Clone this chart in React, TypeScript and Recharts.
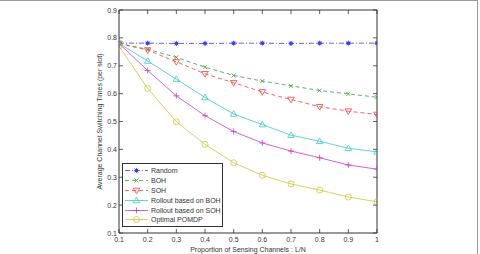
import { Legend, Line, LineChart, XAxis, YAxis } from "recharts";

const proportions = [0.1, 0.2, 0.3, 0.4, 0.5, 0.6, 0.7, 0.8, 0.9, 1.0];
const randomVals = [0.781, 0.781, 0.78, 0.78, 0.781, 0.781, 0.78, 0.781, 0.781, 0.781];
const bohVals = [0.78, 0.759, 0.73, 0.695, 0.665, 0.645, 0.628, 0.611, 0.599, 0.587];
const sohVals = [0.78, 0.756, 0.714, 0.671, 0.639, 0.606, 0.579, 0.553, 0.537, 0.525];
const rolloutBohVals = [0.78, 0.717, 0.652, 0.586, 0.527, 0.489, 0.451, 0.429, 0.404, 0.391];
const rolloutSohVals = [0.78, 0.683, 0.592, 0.521, 0.464, 0.423, 0.394, 0.37, 0.344, 0.329];
const optimalVals = [0.77, 0.619, 0.499, 0.418, 0.352, 0.307, 0.276, 0.254, 0.229, 0.212];

const yTicks = [0.1, 0.2, 0.3, 0.4, 0.5, 0.6, 0.7, 0.8, 0.9];

type Shape = "star" | "x" | "tridown" | "triup" | "plus" | "circle";

type Series = {
  key: string;
  name: string;
  color: string;
  dash?: string;
  shape: Shape;
  values: number[];
};

const series: Series[] = [
  { key: "random", name: "Random", color: "#3a3aff", dash: "5 2 1 2", shape: "star", values: randomVals },
  { key: "boh", name: "BOH", color: "#3a9a3a", dash: "4 3", shape: "x", values: bohVals },
  { key: "soh", name: "SOH", color: "#ff3a3a", dash: "4 3", shape: "tridown", values: sohVals },
  { key: "rboh", name: "Rollout based on BOH", color: "#3ac8c8", shape: "triup", values: rolloutBohVals },
  { key: "rsoh", name: "Rollout based on SOH", color: "#c83ac8", shape: "plus", values: rolloutSohVals },
  { key: "opt", name: "Optimal POMDP", color: "#c8c83a", shape: "circle", values: optimalVals },
];

const data = proportions.map((x, i) => {
  const row: Record<string, number> = { x };
  series.forEach((s) => {
    row[s.key] = s.values[i];
  });
  return row;
});

const FONT = "'Liberation Sans', Arial, sans-serif";
const AXIS = "#333";

function Marker({ cx, cy, shape, color }: { cx: number; cy: number; shape: Shape; color: string }) {
  const sw = 0.8;
  if (shape === "star") {
    return (
      <g stroke={color} strokeWidth={sw}>
        <circle cx={cx} cy={cy} r={1.4} fill={color} />
        <line x1={cx - 2.6} y1={cy} x2={cx + 2.6} y2={cy} />
        <line x1={cx} y1={cy - 2.6} x2={cx} y2={cy + 2.6} />
        <line x1={cx - 1.9} y1={cy - 1.9} x2={cx + 1.9} y2={cy + 1.9} />
        <line x1={cx - 1.9} y1={cy + 1.9} x2={cx + 1.9} y2={cy - 1.9} />
      </g>
    );
  }
  if (shape === "x") {
    return (
      <g stroke={color} strokeWidth={sw}>
        <line x1={cx - 2} y1={cy - 2} x2={cx + 2} y2={cy + 2} />
        <line x1={cx - 2} y1={cy + 2} x2={cx + 2} y2={cy - 2} />
      </g>
    );
  }
  if (shape === "plus") {
    return (
      <g stroke={color} strokeWidth={sw}>
        <line x1={cx - 3} y1={cy} x2={cx + 3} y2={cy} />
        <line x1={cx} y1={cy - 3} x2={cx} y2={cy + 3} />
      </g>
    );
  }
  if (shape === "tridown") {
    return (
      <polygon
        points={`${cx - 3.3},${cy - 2.3} ${cx + 3.3},${cy - 2.3} ${cx},${cy + 3.3}`}
        fill="none"
        stroke={color}
        strokeWidth={sw}
      />
    );
  }
  if (shape === "triup") {
    return (
      <polygon
        points={`${cx - 3.3},${cy + 2.3} ${cx + 3.3},${cy + 2.3} ${cx},${cy - 3.3}`}
        fill="none"
        stroke={color}
        strokeWidth={sw}
      />
    );
  }
  return <circle cx={cx} cy={cy} r={3} fill="none" stroke={color} strokeWidth={sw} />;
}

function makeDot(s: Series) {
  return (props: any) => {
    const { cx, cy, index } = props;
    if (cx == null || cy == null) return <g key={`${s.key}-${index}`} />;
    return (
      <g key={`${s.key}-${index}`}>
        <Marker cx={cx} cy={cy} shape={s.shape} color={s.color} />
      </g>
    );
  };
}

function BottomTick(props: any) {
  const { x, y, payload } = props;
  const v = Number(payload.value);
  return (
    <g>
      <line x1={x} y1={y} x2={x} y2={y - 4} stroke={AXIS} strokeWidth={0.8} />
      <text x={x} y={y + 8.5} textAnchor="middle" fontSize={7} fill="#333" fontFamily={FONT}>
        {v === 1 ? "1" : v.toFixed(1)}
      </text>
    </g>
  );
}

function TopTick(props: any) {
  const { x, y } = props;
  return <line x1={x} y1={y} x2={x} y2={y + 4} stroke={AXIS} strokeWidth={0.8} />;
}

function LeftTick(props: any) {
  const { x, y, payload } = props;
  return (
    <g>
      <line x1={x} y1={y} x2={x + 4} y2={y} stroke={AXIS} strokeWidth={0.8} />
      <text x={x - 2} y={y + 2.5} textAnchor="end" fontSize={7} fill="#333" fontFamily={FONT}>
        {Number(payload.value).toFixed(1)}
      </text>
    </g>
  );
}

function RightTick(props: any) {
  const { x, y } = props;
  return <line x1={x} y1={y} x2={x - 4} y2={y} stroke={AXIS} strokeWidth={0.8} />;
}

function LegendBox() {
  return (
    <div
      style={{
        border: "1px solid #333",
        background: "#fff",
        padding: "2px 0 1px 0",
        fontFamily: FONT,
        fontSize: 7,
        color: "#333",
        boxSizing: "border-box",
        width: 101,
      }}
    >
      {series.map((s) => (
        <div key={s.key} style={{ display: "flex", alignItems: "center", height: 9.8 }}>
          <svg width={28} height={9} style={{ display: "block" }}>
            <line x1={2} y1={4.5} x2={25} y2={4.5} stroke={s.color} strokeWidth={0.8} strokeDasharray={s.dash} />
            <Marker cx={13.5} cy={4.5} shape={s.shape} color={s.color} />
          </svg>
          <span style={{ whiteSpace: "nowrap", lineHeight: "9px" }}>{s.name}</span>
        </div>
      ))}
    </div>
  );
}

export default function App() {
  return (
    <div
      style={{
        position: "absolute",
        left: 0,
        top: 0,
        width: 480,
        height: 254,
        background: "#fff",
      }}
    >
      <div
        style={{
          position: "absolute",
          left: 0,
          top: 0,
          width: 478,
          height: 254,
          borderTop: "1px solid #999",
          borderRight: "1px solid #999",
          boxSizing: "border-box",
          pointerEvents: "none",
        }}
      />
      <LineChart width={480} height={254} data={data} margin={{ top: 0, right: 98, left: 89, bottom: 0 }}>
        <XAxis
          xAxisId="bottom"
          dataKey="x"
          type="number"
          domain={[0.1, 1]}
          ticks={proportions}
          interval={0}
          height={21}
          tickSize={0}
          tickMargin={0}
          tick={<BottomTick />}
          axisLine={{ stroke: AXIS, strokeWidth: 1 }}
          allowDataOverflow
          label={{
            value: "Proportion of Sensing Channels : L/N",
            position: "insideBottom",
            offset: 2,
            style: { fontSize: 7, fill: "#333", fontFamily: FONT },
          }}
        />
        <XAxis
          xAxisId="top"
          orientation="top"
          dataKey="x"
          type="number"
          domain={[0.1, 1]}
          ticks={proportions}
          interval={0}
          height={10}
          tickSize={0}
          tickMargin={0}
          tick={<TopTick />}
          axisLine={{ stroke: AXIS, strokeWidth: 1 }}
          allowDataOverflow
        />
        <YAxis
          yAxisId="left"
          type="number"
          domain={[0.1, 0.9]}
          ticks={yTicks}
          interval={0}
          width={30}
          tickSize={0}
          tickMargin={0}
          tick={<LeftTick />}
          axisLine={{ stroke: AXIS, strokeWidth: 1 }}
          allowDataOverflow
          label={{
            value: "Average Channel Switching Times (per slot)",
            angle: -90,
            position: "insideLeft",
            offset: 11,
            style: { fontSize: 7, fill: "#333", fontFamily: FONT, textAnchor: "middle" },
          }}
        />
        <YAxis
          yAxisId="right"
          orientation="right"
          type="number"
          domain={[0.1, 0.9]}
          ticks={yTicks}
          interval={0}
          width={5}
          tickSize={0}
          tickMargin={0}
          tick={<RightTick />}
          axisLine={{ stroke: AXIS, strokeWidth: 1 }}
          allowDataOverflow
        />
        <Legend
          layout="vertical"
          align="center"
          verticalAlign="middle"
          content={() => <LegendBox />}
          wrapperStyle={{ position: "absolute", left: 122, top: 163, width: 101 }}
        />
        {series.map((s) => (
          <Line
            key={s.key}
            xAxisId="bottom"
            yAxisId="left"
            dataKey={s.key}
            name={s.name}
            stroke={s.color}
            strokeWidth={0.8}
            strokeDasharray={s.dash}
            dot={makeDot(s)}
            activeDot={false}
            isAnimationActive={false}
          />
        ))}
      </LineChart>
    </div>
  );
}
